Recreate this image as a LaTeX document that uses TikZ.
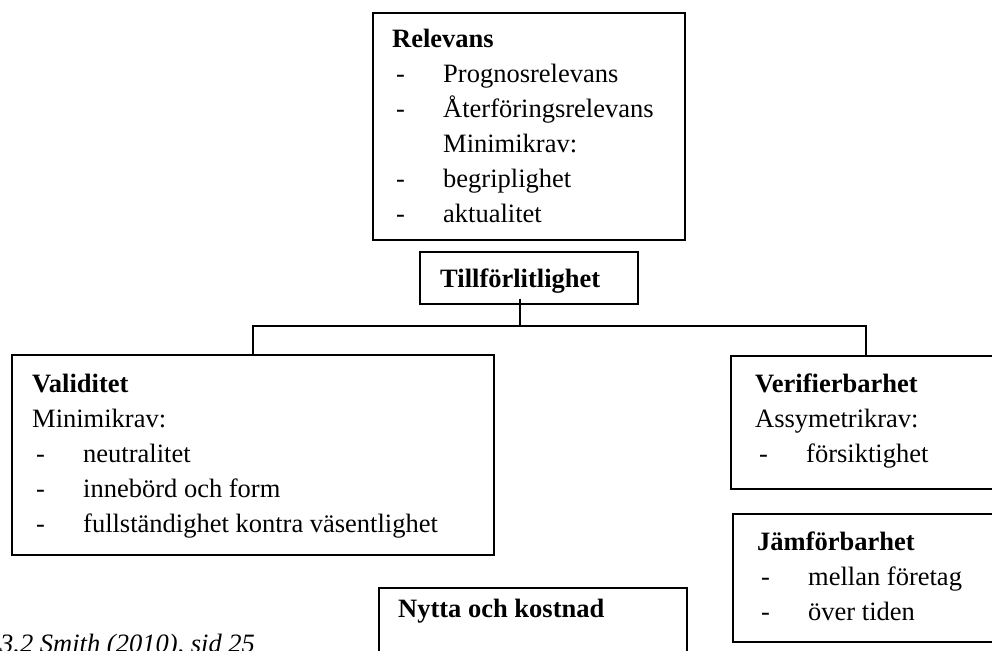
\documentclass[tikz,border=0pt]{standalone}
\usepackage{fontspec}
\setmainfont{Liberation Serif}
\usetikzlibrary{positioning, calc}
\definecolor{ink}{HTML}{000000}
\newcommand{\krdash}[1]{\hspace*{4pt}\makebox[47pt][l]{-}#1}
\newcommand{\krind}[1]{\hspace*{51pt}#1}
\tikzset{
  every node/.style = {text=ink},
  krbox/.style  = {draw=ink, line width=1.6pt, anchor=north west, inner sep=0pt},
  krtext/.style = {anchor=base west, align=left, inner sep=0pt,
                   font=\fontsize{26.5}{35}\selectfont},
  krhead/.style = {krtext, font=\fontsize{26.5}{35}\selectfont\bfseries},
  krcap/.style  = {krtext, font=\fontsize{26.5}{35}\selectfont\itshape},
  krline/.style = {draw=ink, line width=1.6pt},
}

\begin{document}
\begin{tikzpicture}[x=1pt, y=1pt]
\useasboundingbox (0,0) rectangle (992,-650);
\clip (0,0) rectangle (992,-650);

% boxes
\node[krbox, minimum width=312, minimum height=227] (rel)   at (372,-12)  {};
\node[krbox, minimum width=218, minimum height=52]  (tillf) at (419,-251) {};
\node[krbox, minimum width=482, minimum height=200] (val)   at (11,-354)  {};
\node[krbox, minimum width=270, minimum height=133] (ver)   at (730,-355) {};
\node[krbox, minimum width=270, minimum height=128] (jam)   at (732,-513) {};
\node[krbox, minimum width=308, minimum height=120] (nytta) at (378,-587) {};

% texts (placed by the baseline of their last line)
\node[krtext] (reltext) at (392,-222)
  {\textbf{Relevans}\\ \krdash{Prognosrelevans}\\ \krdash{Återföringsrelevans}\\
   \krind{Minimikrav:}\\ \krdash{begriplighet}\\ \krdash{aktualitet}};
\node[krhead] (tilltext) at (440,-287) {Tillförlitlighet};
\node[krtext] (valtext) at (32,-532)
  {\textbf{Validitet}\\ Minimikrav:\\ \krdash{neutralitet}\\ \krdash{innebörd och form}\\
   \krdash{fullständighet kontra väsentlighet}};
\node[krtext] (vertext) at (755,-462)
  {\textbf{Verifierbarhet}\\ Assymetrikrav:\\ \krdash{försiktighet}};
\node[krtext] (jamtext) at (757,-620)
  {\textbf{Jämförbarhet}\\ \krdash{mellan företag}\\ \krdash{över tiden}};
\node[krhead] (nyttatext) at (398,-617) {Nytta och kostnad};
\node[krcap] (caption) at (0,-652) {3.2 Smith (2010), sid 25};

% connectors
\coordinate (split) at (520,-326);
\draw[krline] ([yshift=6pt]tillf.south -| split) -- (split);
\draw[krline] (val.north) |- (split) -| (ver.north);
\end{tikzpicture}
\end{document}
